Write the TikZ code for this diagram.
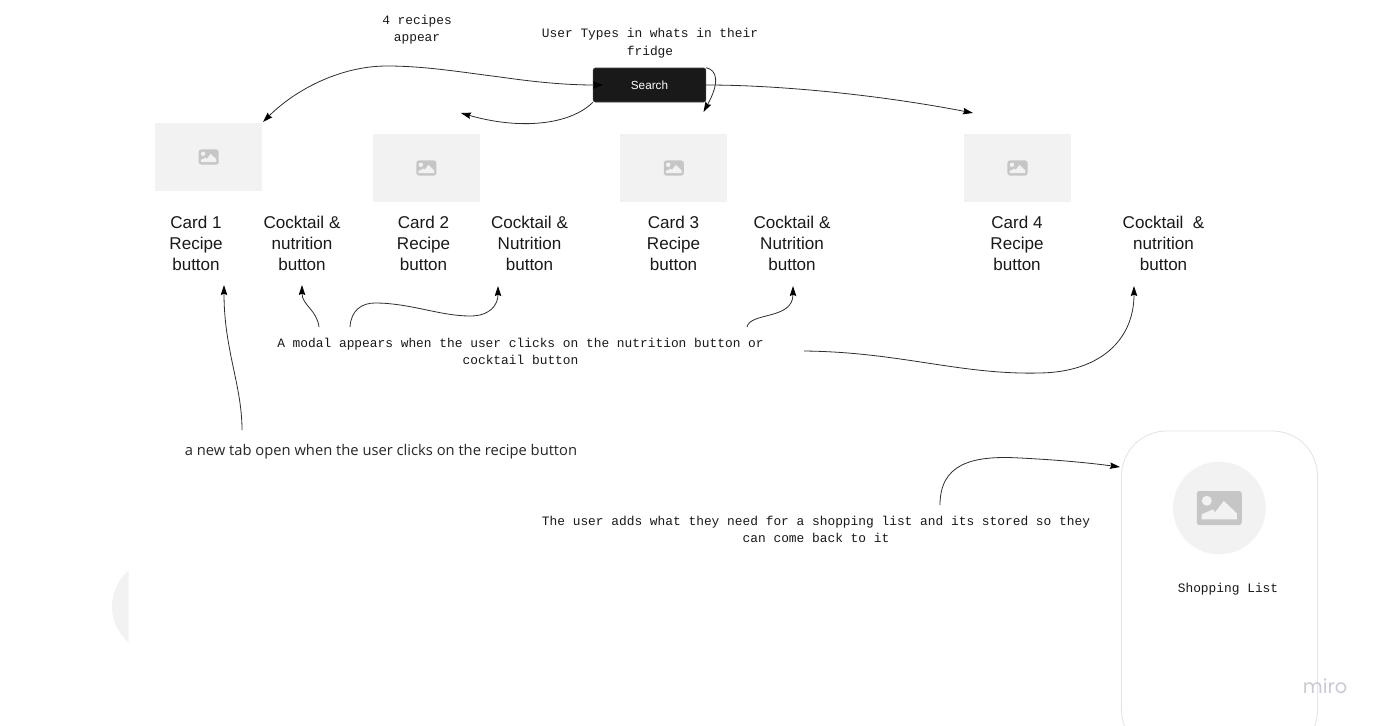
\documentclass[tikz,border=0pt]{standalone}
\usepackage{fontspec}
\setmainfont{Liberation Sans}
\newfontfamily\monofam{Liberation Mono}
\newfontfamily\opensans{Open Sans}
\newfontfamily\miroface{Poppins}
\usetikzlibrary{arrows.meta,calc}
\definecolor{imgbg}{HTML}{F2F2F2}
\definecolor{imggly}{HTML}{C6C6C6}
\definecolor{framec}{HTML}{E3E3E6}
\definecolor{linec}{HTML}{2E2E2E}
\definecolor{miroc}{HTML}{C9CAD6}
\tikzset{
  x=.75pt,y=-.75pt,
  imgbox/.style={fill=imgbg,draw=none,minimum width=80.25pt,minimum height=51pt,inner sep=0pt},
  cardtext/.style={font=\fontsize{12.8pt}{15.75pt}\selectfont,align=center,inner sep=0pt,text=black!90},
  monotext/.style={font=\monofam\fontsize{9.65pt}{13.1pt}\selectfont,align=center,inner sep=0pt,text=black!90},
  link/.style={draw=linec,line width=.6pt,-{Stealth[length=7.5pt,width=4.8pt,inset=1pt,color=black]}},
  twolink/.style={draw=linec,line width=.6pt,{Stealth[length=7.5pt,width=4.8pt,inset=1pt,color=black]}-{Stealth[length=7.5pt,width=5.5pt,inset=1pt,color=black]}},
  pics/photo/.style={code={
    \fill[imggly,rounded corners=1.9pt] (-22.5,-17) rectangle (22.5,17);
    \fill[imgbg] (-12.5,-7.3) circle (5);
    \fill[imgbg] (-17.8,11.3) -- (-17.8,6.5) -- (-6.2,1.3) -- (-4.5,4.5) -- (4.5,-7) -- (17.5,5.3) -- (17.5,11.3) -- cycle;
  }},
}
\begin{document}
\begin{tikzpicture}
\useasboundingbox (0,0) rectangle (1378,725);
\fill[white] (0,0) rectangle (1378,725);

% cut-off circle at the left
\begin{scope}
  \clip (0,500) rectangle (128.5,700);
  \node[circle,fill=imgbg,minimum size=71pt,inner sep=0pt] (cutcircle) at (159.4,606.5) {};
\end{scope}

% phone frame
\node[draw=framec,line width=.6pt,rounded corners=33.75pt,minimum width=147pt,minimum height=243pt,inner sep=0pt] (phone) at (1219.5,593) {};
\node[circle,fill=imgbg,minimum size=69.5pt,inner sep=0pt] (phonecircle) at (1219.3,508) {};
\pic at (phonecircle.center) {photo};
\node[monotext] (shop) at (1228,589) {Shopping List};
\node[font=\miroface\fontsize{14.5pt}{16pt}\selectfont,text=miroc,inner sep=0pt] (miro) at (1325,686.5) {miro};

% search
\node[fill=black!90,draw=black!75,line width=.4pt,rounded corners=1.6pt,minimum width=84.5pt,minimum height=25.5pt,inner sep=0pt,text=white,font=\fontsize{8.8pt}{10pt}\selectfont] (search) at (649.5,85) {Search};

% images
\node[imgbox] (img1) at (208.7,157) {};
\node[imgbox] (img2) at (426.4,168) {};
\node[imgbox] (img3) at (673.8,168) {};
\node[imgbox] (img4) at (1017.5,168) {};
\foreach \n in {img1,img2,img3,img4}{ \pic[scale=.445] at (\n.center) {photo}; }

% texts
\node[monotext] (recipes) at (417,29.7) {4 recipes\\appear};
\node[monotext] (usertypes) at (650,43) {User Types in whats in their\\fridge};

\node[cardtext] (c1) at (196,243) {Card 1\\Recipe\\button};
\node[cardtext] (n1) at (302,243) {Cocktail \&\\nutrition\\button};
\node[cardtext] (c2) at (423.5,243) {Card 2\\Recipe\\button};
\node[cardtext] (n2) at (529.5,243) {Cocktail \&\\Nutrition\\button};
\node[cardtext] (c3) at (673.5,243) {Card 3\\Recipe\\button};
\node[cardtext] (n3) at (792,243) {Cocktail \&\\Nutrition\\button};
\node[cardtext] (c4) at (1017,243) {Card 4\\Recipe\\button};
\node[cardtext] (n4) at (1163.5,243) {Cocktail\ \ \&\\nutrition\\button};

\node[monotext] (modal) at (520.5,351.3) {A modal appears when the user clicks on the nutrition button or\\cocktail button};
\node[font=\opensans\fontsize{11.05pt}{13pt}\selectfont,inner sep=0pt,text=black!85] (newtab) at (381,451.5) {a new tab open when the user clicks on the recipe button};
\node[monotext] (adds) at (816,529.3) {The user adds what they need for a shopping list and its stored so they\\can come back to it};

% free ends
\coordinate (sIn) at ($(search.west)+(10,0)$);
\coordinate (a1) at (263,122);
\coordinate (a2) at (461,113);
\coordinate (a3) at (703.5,112);
\coordinate (a4) at (973,113);
\coordinate (sE) at (search.east);
\coordinate (sNE) at (search.north east);
\coordinate (sSW) at (search.south west);
\coordinate (recipeTip) at (224,285);
\coordinate (recipeFoot) at (242,430);
\coordinate (t1) at (302,285);
\coordinate (f1) at (319,327);
\coordinate (t2) at (498,286);
\coordinate (f2) at (350,327);
\coordinate (t3) at (793,286);
\coordinate (f3) at (747,327);
\coordinate (t4) at (1134,286);
\coordinate (f4) at (804,351);
\coordinate (addsFoot) at (940,505);
\coordinate (phoneIn) at (1120,467);

% connectors
\draw[twolink] (a1) .. controls (295,90) and (340,66) .. (387,66) .. controls (425,66) and (460,72) .. (500,77) .. controls (535,82) and (565,85) .. (sIn);
\draw[link] (sSW) .. controls (570,125) and (520,130) .. (a2);
\draw[link] (sNE) .. controls (717,70) and (720,82) .. (a3);
\draw[link] (sE) .. controls (780,85) and (880,95) .. (a4);
\draw[link] (recipeFoot) .. controls (242,385) and (224,350) .. (recipeTip);
\draw[link] (f1) .. controls (317,310) and (302,305) .. (t1);
\draw[link] (f2) .. controls (351,310) and (362,303) .. (375,303) .. controls (410,303) and (440,316) .. (470,316) .. controls (490,316) and (498,305) .. (t2);
\draw[link] (f3) .. controls (750,312) and (793,320) .. (t3);
\draw[link] (f4) .. controls (900,352) and (960,375) .. (1040,373) .. controls (1100,372) and (1134,340) .. (t4);
\draw[link] (addsFoot) .. controls (940,465) and (970,455) .. (1020,458) .. controls (1060,460) and (1090,463) .. (phoneIn);
\end{tikzpicture}
\end{document}
